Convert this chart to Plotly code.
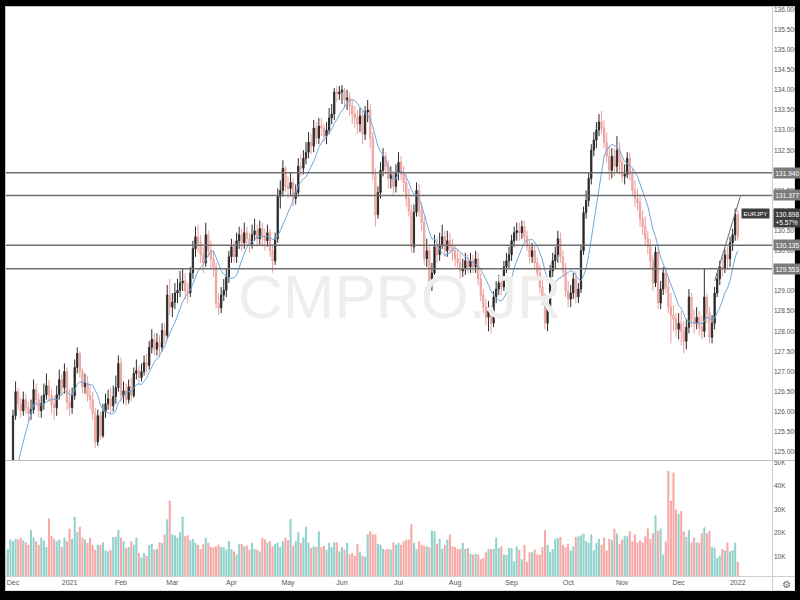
import pandas as pd
import plotly.graph_objects as go

# ---------------- data ----------------
holidays = ["2020-12-25", "2021-01-01"]
dates = [d for d in pd.bdate_range("2020-11-16", "2022-01-03") if d.strftime("%Y-%m-%d") not in holidays]

opens = [
    # Nov 2020
    123.80, 123.90, 123.62, 123.35, 123.22, 123.10, 123.48, 123.88,
    124.02, 123.99, 124.18,
    # Dec 2020
    124.40, 125.90, 126.50, 126.20, 126.02, 126.30, 126.10, 125.95, 126.05, 126.55, 126.30,
    126.02, 126.20, 126.42, 126.65, 126.40, 126.18, 126.10, 126.42, 126.80, 126.60, 127.00,
    # Jan 2021
    126.25, 126.10, 126.40, 127.10, 127.45, 127.00, 126.62, 126.72, 126.40, 126.30,
    125.95, 125.25, 125.90, 125.40, 126.00, 126.20, 126.32, 126.15, 126.38, 126.60,
    # Feb
    127.20, 126.40, 126.52, 126.30, 126.62, 126.40, 126.95, 127.02, 126.85, 127.00,
    127.22, 127.15, 127.60, 127.80, 127.55, 127.72, 127.60, 128.02, 127.90, 128.90,
    # Mar
    128.60, 128.72, 128.95, 129.02, 129.20, 129.25, 129.00, 128.95, 129.45, 130.05, 130.35, 130.20,
    129.90, 129.70, 130.40, 130.00, 129.80, 129.60, 128.70, 128.58, 128.90, 129.02, 129.35,
    # Apr
    129.85, 130.10, 129.85, 130.25, 130.40, 130.20, 130.45, 130.30, 130.15, 130.40, 130.50,
    130.30, 130.55, 130.35, 130.25, 130.45, 130.00, 129.75, 130.30, 131.35, 131.50, 132.05,
    # May
    131.60, 131.55, 131.70, 131.30, 131.45, 132.10, 132.05, 132.30, 132.45, 132.70, 132.60,
    133.05, 132.80, 133.10, 133.05, 132.85, 133.00, 133.30, 133.40, 133.95, 133.90,
    # Jun
    133.95, 134.00, 133.75, 133.80, 133.60, 133.40, 133.30, 133.15, 133.35, 132.90, 133.45,
    133.50, 132.80, 131.90, 130.90, 131.45, 132.00, 132.35, 132.10, 131.80, 131.90, 131.60,
    # Jul
    131.95, 132.20, 131.90, 131.70, 131.30, 131.00, 130.10, 130.95, 131.50, 131.00, 130.70,
    129.80, 130.00, 129.15, 129.45, 130.10, 129.90, 130.15, 130.35, 130.00, 130.25, 130.10,
    # Aug
    130.00, 129.80, 129.70, 129.50, 129.55, 129.75, 129.60, 129.75, 129.60, 129.80, 129.30,
    128.90, 128.60, 128.35, 128.50, 128.20, 128.85, 129.05, 129.20, 129.10, 129.60, 129.75,
    # Sep
    129.90, 130.25, 130.45, 130.50, 130.45, 130.60, 130.35, 130.10, 129.85, 130.00, 129.70,
    129.45, 129.10, 128.80, 128.20, 128.60, 129.50, 129.75, 129.90, 130.30, 129.85, 129.50,
    # Oct
    129.00, 128.80, 128.95, 129.30, 128.85, 129.05, 130.00, 130.95, 131.25, 131.80, 132.50,
    132.75, 133.00, 133.20, 133.05, 132.70, 132.35, 132.00, 132.35, 132.10, 132.50,
    # Nov
    132.20, 131.85, 131.90, 132.30, 131.90, 131.50, 131.30, 131.20, 130.80, 130.60, 130.30,
    130.10, 129.75, 129.20, 129.97, 128.70, 129.05, 129.45, 129.10, 128.60, 128.40, 128.30,
    # Dec
    128.05, 128.20, 128.00, 127.75, 128.10, 128.85, 128.30, 128.20, 128.35, 128.10, 128.00, 128.85,
    128.45, 127.85, 128.20, 128.95, 129.30, 129.60, 129.55, 129.90, 129.80, 130.20, 130.40,
    # Jan 2022
    130.90,
]

highs = [
    124.05, 124.00, 123.75, 123.50, 123.40, 123.60, 124.00, 124.15,
    124.20, 124.30, 124.60,
    126.05, 126.75, 126.60, 126.35, 126.50, 126.45, 126.25, 126.30, 126.80, 126.70, 126.45,
    126.40, 126.70, 126.95, 126.80, 126.55, 126.40, 126.65, 127.05, 126.95, 127.20, 127.10,
    126.55, 126.60, 127.30, 127.60, 127.50, 127.10, 126.95, 126.90, 126.65, 126.50,
    126.10, 126.05, 126.00, 126.20, 126.45, 126.55, 126.60, 126.65, 126.90, 127.40,
    127.35, 126.75, 126.70, 126.80, 126.85, 127.10, 127.30, 127.15, 127.20, 127.40,
    127.45, 127.75, 128.05, 127.95, 127.95, 127.90, 128.20, 128.20, 129.15, 129.30,
    128.95, 129.20, 129.30, 129.50, 129.55, 129.45, 129.20, 129.60, 130.25, 130.60, 130.65, 130.40,
    130.10, 130.70, 130.50, 130.25, 130.00, 129.70, 128.95, 129.10, 129.30, 129.55, 130.00,
    130.30, 130.25, 130.45, 130.60, 130.55, 130.70, 130.60, 130.45, 130.65, 130.80, 130.65,
    130.75, 130.70, 130.55, 130.65, 130.55, 130.15, 130.45, 131.55, 131.75, 132.25, 132.10,
    131.85, 131.95, 131.80, 131.65, 132.30, 132.40, 132.50, 132.70, 132.95, 132.90, 133.25,
    133.20, 133.30, 133.30, 133.15, 133.20, 133.55, 133.65, 134.05, 134.10, 134.10,
    134.12, 134.05, 134.00, 133.95, 133.75, 133.60, 133.50, 133.55, 133.50, 133.60, 133.75,
    133.65, 132.95, 132.05, 131.60, 132.20, 132.55, 132.45, 132.25, 132.10, 132.00, 132.15,
    132.45, 132.35, 132.10, 131.90, 131.55, 131.15, 131.15, 131.70, 131.65, 131.20, 130.85,
    130.30, 130.15, 129.70, 130.40, 130.35, 130.45, 130.65, 130.50, 130.50, 130.45, 130.30,
    130.15, 130.05, 129.95, 129.80, 129.95, 129.90, 129.95, 129.90, 130.00, 129.95, 129.45,
    129.05, 128.80, 128.75, 128.65, 129.00, 129.25, 129.40, 129.35, 129.75, 129.95, 130.10,
    130.40, 130.60, 130.70, 130.70, 130.75, 130.75, 130.50, 130.25, 130.20, 130.15, 129.85,
    129.65, 129.30, 128.95, 128.75, 129.65, 129.95, 130.10, 130.50, 130.45, 130.00, 129.70,
    129.25, 129.15, 129.45, 129.50, 129.20, 130.15, 131.10, 131.50, 131.95, 132.65, 132.95,
    133.20, 133.40, 133.48, 133.25, 132.95, 132.60, 132.55, 132.55, 132.85, 132.70,
    132.35, 132.15, 132.45, 132.45, 132.05, 131.75, 131.55, 131.40, 131.00, 130.85, 130.50,
    130.30, 129.90, 130.10, 130.10, 129.25, 129.60, 129.60, 129.30, 128.95, 128.65, 128.45,
    128.45, 128.50, 128.25, 128.30, 129.05, 128.95, 128.55, 128.60, 128.50, 128.40, 129.55, 128.95,
    128.60, 128.40, 129.10, 129.45, 129.75, 129.85, 130.05, 130.10, 130.35, 130.55, 131.05,
    131.00,
]

lows = [
    123.60, 123.50, 123.25, 123.05, 122.95, 123.00, 123.40, 123.75,
    123.80, 123.90, 124.05,
    124.30, 125.80, 126.05, 125.85, 125.90, 125.95, 125.75, 125.80, 125.95, 126.15, 125.85,
    125.85, 126.05, 126.30, 126.25, 125.95, 125.80, 125.90, 126.30, 126.40, 126.45, 126.05,
    125.90, 125.95, 126.30, 126.95, 126.85, 126.45, 126.45, 126.25, 126.05, 125.80,
    125.10, 125.15, 125.30, 125.35, 125.85, 126.05, 125.95, 126.00, 126.20, 126.50,
    126.25, 126.20, 126.15, 126.20, 126.25, 126.35, 126.80, 126.70, 126.75, 126.90,
    126.95, 127.05, 127.45, 127.40, 127.40, 127.35, 127.50, 127.70, 127.80, 128.40,
    128.35, 128.55, 128.70, 128.85, 129.00, 128.80, 128.70, 128.85, 129.30, 129.85, 129.95, 129.70,
    129.45, 129.60, 129.85, 129.55, 129.35, 128.55, 128.40, 128.45, 128.75, 128.85, 129.20,
    129.70, 129.70, 129.70, 130.05, 130.00, 130.05, 130.15, 129.95, 130.05, 130.25, 130.10,
    130.15, 130.10, 130.00, 130.10, 129.85, 129.45, 129.65, 130.20, 131.05, 131.35, 131.45,
    131.30, 131.35, 131.10, 131.15, 131.35, 131.85, 131.90, 132.15, 132.30, 132.40, 132.45,
    132.65, 132.65, 132.85, 132.70, 132.65, 132.90, 133.15, 133.25, 133.70, 133.75,
    133.65, 133.55, 133.50, 133.35, 133.15, 133.05, 132.90, 132.95, 132.65, 132.75, 133.20,
    132.55, 131.75, 130.60, 130.80, 131.30, 131.85, 131.90, 131.55, 131.55, 131.40, 131.45,
    131.75, 131.75, 131.45, 131.10, 130.85, 129.95, 129.95, 130.85, 130.85, 130.50, 129.65,
    129.60, 128.95, 129.00, 129.40, 129.70, 129.75, 130.05, 129.85, 129.85, 129.95, 129.75,
    129.60, 129.55, 129.30, 129.35, 129.40, 129.45, 129.45, 129.45, 129.45, 129.15, 128.75,
    128.45, 128.15, 128.00, 127.95, 128.10, 128.70, 128.90, 128.90, 129.00, 129.45, 129.55,
    129.75, 130.10, 130.25, 130.25, 130.30, 130.20, 130.00, 129.70, 129.70, 129.55, 129.30,
    128.95, 128.65, 128.05, 128.00, 128.50, 129.35, 129.55, 129.70, 129.70, 129.35, 128.85,
    128.60, 128.60, 128.80, 128.70, 128.70, 128.95, 129.90, 130.80, 131.10, 131.65, 132.35,
    132.55, 132.85, 132.90, 132.55, 132.20, 131.75, 131.80, 131.85, 131.95, 131.90,
    131.70, 131.65, 131.80, 131.75, 131.35, 131.10, 131.00, 130.60, 130.40, 130.15, 129.90,
    129.55, 129.00, 129.10, 128.55, 128.55, 128.90, 128.95, 128.45, 127.70, 128.00, 127.85,
    127.80, 127.65, 127.45, 127.55, 127.95, 128.10, 127.95, 128.05, 127.90, 127.80, 127.85, 128.20,
    127.70, 127.70, 128.05, 128.85, 129.15, 129.35, 129.45, 129.55, 129.60, 130.00, 130.25,
    130.25,
]

closes = [
    123.90, 123.62, 123.35, 123.22, 123.10, 123.48, 123.88, 124.02,
    123.99, 124.18, 124.40,
    125.90, 126.50, 126.20, 126.02, 126.30, 126.10, 125.95, 126.05, 126.55, 126.30, 126.02,
    126.20, 126.42, 126.65, 126.40, 126.18, 126.10, 126.42, 126.80, 126.60, 127.00, 126.25,
    126.10, 126.40, 127.10, 127.45, 127.00, 126.62, 126.72, 126.40, 126.30, 125.95,
    125.25, 125.90, 125.40, 126.00, 126.20, 126.32, 126.15, 126.38, 126.60, 127.20,
    126.40, 126.52, 126.30, 126.62, 126.40, 126.95, 127.02, 126.85, 127.00, 127.22,
    127.15, 127.60, 127.80, 127.55, 127.72, 127.60, 128.02, 127.90, 128.90, 128.60,
    128.72, 128.95, 129.02, 129.20, 129.25, 129.00, 128.95, 129.45, 130.05, 130.35, 130.20, 129.90,
    129.70, 130.40, 130.00, 129.80, 129.60, 128.70, 128.58, 128.90, 129.02, 129.35, 129.85,
    130.10, 129.85, 130.25, 130.40, 130.20, 130.45, 130.30, 130.15, 130.40, 130.50, 130.30,
    130.55, 130.35, 130.25, 130.45, 130.00, 129.75, 130.30, 131.35, 131.50, 132.05, 131.60,
    131.55, 131.70, 131.30, 131.45, 132.10, 132.05, 132.30, 132.45, 132.70, 132.60, 133.05,
    132.80, 133.10, 133.05, 132.85, 133.00, 133.30, 133.40, 133.95, 133.90, 133.95,
    134.00, 133.75, 133.80, 133.60, 133.40, 133.30, 133.15, 133.35, 132.90, 133.45, 133.50,
    132.80, 131.90, 130.90, 131.45, 132.00, 132.35, 132.10, 131.80, 131.90, 131.60, 131.95,
    132.20, 131.90, 131.70, 131.30, 131.00, 130.10, 130.95, 131.50, 131.00, 130.70, 129.80,
    130.00, 129.15, 129.45, 130.10, 129.90, 130.15, 130.35, 130.00, 130.25, 130.10, 130.00,
    129.80, 129.70, 129.50, 129.55, 129.75, 129.60, 129.75, 129.60, 129.80, 129.30, 128.90,
    128.60, 128.35, 128.50, 128.20, 128.85, 129.05, 129.20, 129.10, 129.60, 129.75, 129.90,
    130.25, 130.45, 130.50, 130.45, 130.60, 130.35, 130.10, 129.85, 130.00, 129.70, 129.45,
    129.10, 128.80, 128.20, 128.60, 129.50, 129.75, 129.90, 130.30, 129.85, 129.50, 129.00,
    128.80, 128.95, 129.30, 128.85, 129.05, 130.00, 130.95, 131.25, 131.80, 132.50, 132.75,
    133.00, 133.20, 133.05, 132.70, 132.35, 132.00, 132.35, 132.10, 132.50, 132.20,
    131.85, 131.90, 132.30, 131.90, 131.50, 131.30, 131.20, 130.80, 130.60, 130.30, 130.10,
    129.75, 129.20, 129.97, 128.70, 129.05, 129.45, 129.10, 128.60, 128.40, 128.30, 128.05,
    128.20, 128.00, 127.75, 128.10, 128.85, 128.30, 128.20, 128.35, 128.10, 128.00, 128.85, 128.45,
    127.85, 128.20, 128.95, 129.30, 129.60, 129.55, 129.90, 129.80, 130.20, 130.40, 130.90,
    130.35,
]

volumes_k = [
    13.1, 12.4, 14.0, 12.8, 11.5, 13.6, 12.9, 11.0,
    10.9, 13.3, 17.3,
    16.6, 17.6, 17.3, 18.1, 16.9, 16.1, 15.1, 21.3, 18.1, 16.6, 15.1,
    18.1, 16.9, 14.1, 26.3, 18.7, 17.6, 16.6, 17.3, 14.1, 18.1, 16.6,
    21.9, 17.6, 27.0, 20.6, 22.7, 18.1, 17.3, 15.9, 18.1, 15.1,
    13.0, 15.1, 15.1, 16.1, 12.7, 12.3, 13.0, 18.4, 18.4, 21.3,
    18.1, 16.6, 13.7, 14.1, 16.6, 15.1, 18.1, 11.6, 9.7, 11.6,
    10.4, 15.0, 15.5, 13.0, 13.3, 16.1, 15.9, 19.5, 25.9, 33.8,
    19.5, 19.1, 18.1, 20.4, 27.0, 18.7, 19.1, 16.9, 17.6, 15.9, 15.1, 13.3,
    15.5, 18.1, 15.9, 14.1, 14.1, 14.4, 15.1, 14.1, 14.1, 13.0, 16.6,
    13.3, 12.3, 10.9, 15.5, 15.5, 14.4, 14.7, 13.0, 15.9, 13.3, 13.0,
    12.3, 18.1, 17.3, 16.1, 16.6, 14.4, 15.5, 15.9, 14.1, 16.6, 18.1,
    17.1, 26.0, 14.7, 16.6, 20.4, 15.9, 18.1, 22.7, 16.0, 13.7, 14.4,
    14.1, 20.8, 14.1, 14.7, 13.0, 15.9, 14.1, 16.1, 16.1, 12.3,
    14.1, 13.0, 15.9, 11.0, 11.6, 10.4, 15.5, 12.1, 10.4, 10.0, 19.5,
    20.8, 19.5, 19.5, 15.5, 15.1, 13.3, 13.0, 13.3, 13.0, 16.1, 15.1,
    15.9, 15.1, 16.6, 17.3, 17.3, 23.8, 15.9, 13.3, 16.6, 15.1, 14.7,
    14.4, 14.1, 21.1, 20.8, 15.5, 17.6, 13.3, 15.1, 17.3, 19.5, 14.4,
    14.1, 13.3, 13.3, 15.9, 13.3, 13.7, 11.3, 10.9, 11.3, 10.9, 9.0,
    9.4, 11.9, 13.3, 13.3, 13.3, 18.1, 13.7, 14.4, 10.9, 10.9, 13.7,
    13.7, 8.1, 14.4, 13.0, 8.9, 15.1, 7.8, 11.9, 11.9, 13.0, 10.9,
    10.9, 14.1, 21.3, 15.1, 11.9, 13.3, 17.6, 17.9, 18.4, 15.1, 14.1,
    15.5, 12.7, 14.4, 18.4, 18.7, 19.1, 19.9, 16.6, 15.9, 19.5, 12.7,
    15.9, 17.6, 15.1, 18.1, 12.7, 17.6, 17.1, 21.9, 19.9, 15.5,
    17.3, 18.9, 18.7, 20.8, 16.6, 19.5, 16.1, 16.9, 16.1, 18.7, 22.0,
    17.6, 20.0, 27.6, 21.0, 22.0, 10.9, 16.5, 46.5, 33.8, 45.8, 30.0,
    28.1, 29.4, 20.8, 18.4, 21.3, 16.1, 18.1, 16.1, 15.9, 20.0, 22.5, 20.0,
    21.0, 14.1, 13.7, 9.5, 10.5, 13.3, 12.6, 16.0, 12.3, 12.8, 16.0,
    7.8,
]

levels = [131.940, 131.377, 130.135, 129.553]
level_labels = ["131.940", "131.377", "130.135", "129.553"]
last_price = 130.898
last_change = "+5.57%"
symbol = "EURJPY"
ma_period = 9
trend_idx = [284, 294]
trend_px = [129.25, 131.35]
month_labels = {2: "Feb", 3: "Mar", 4: "Apr", 5: "May", 6: "Jun", 7: "Jul",
                8: "Aug", 9: "Sep", 10: "Oct", 11: "Nov", 12: "Dec"}

n = len(dates)
assert len(opens) == n and len(highs) == n and len(lows) == n and len(closes) == n and len(volumes_k) == n

idx = list(range(n))
ma = pd.Series(closes).rolling(ma_period).mean()

tickvals, ticktext = [], []
prev = None
for i, d in enumerate(dates):
    key = (d.year, d.month)
    if key != prev:
        prev = key
        if d < pd.Timestamp("2020-12-01"):
            continue
        tickvals.append(i)
        ticktext.append(str(d.year) if d.month == 1 else month_labels[d.month])

up_col = "#92d2cc"
dn_col = "#f7a9a7"
vol_colors = [up_col if c >= o else dn_col for o, c in zip(opens, closes)]

# ---------------- figure ----------------
W, H = 800, 600
L, R, T, B = 5, 28, 7, 24
pw, ph = W - L - R, H - T - B


def pxx(x):
    return (x - L) / pw


def pxy(y):
    return (H - B - y) / ph


fig = go.Figure()

fig.add_trace(go.Candlestick(
    x=idx, open=opens, high=highs, low=lows, close=closes,
    increasing=dict(fillcolor="#222222", line=dict(color="#2c2c2c", width=1)),
    decreasing=dict(fillcolor="#f4c2bf", line=dict(color="#ec9f9b", width=1)),
    whiskerwidth=0, xaxis="x", yaxis="y", showlegend=False, hoverinfo="skip",
))

fig.add_trace(go.Scatter(
    x=idx, y=ma, mode="lines", line=dict(color="#6fa8dc", width=1),
    xaxis="x", yaxis="y", showlegend=False, hoverinfo="skip",
))

fig.add_trace(go.Scatter(
    x=trend_idx, y=trend_px, mode="lines", line=dict(color="#6b6b6b", width=1),
    xaxis="x", yaxis="y", showlegend=False, hoverinfo="skip",
))

fig.add_trace(go.Bar(
    x=idx, y=volumes_k, marker=dict(color=vol_colors, line=dict(width=0)),
    xaxis="x2", yaxis="y2", showlegend=False, hoverinfo="skip",
))

xr = [8 + (L - 5.3) / 2.57, 8 + (772 - 5.3) / 2.57]
font_fam = "Liberation Sans, Arial, sans-serif"
tick_font = dict(family=font_fam, size=6.5, color="#555555")

price_domain = [pxy(460), 1.0]
vol_domain = [0.0, pxy(461)]

fig.update_layout(
    width=W, height=H,
    margin=dict(l=L, r=R, t=T, b=B, autoexpand=False),
    paper_bgcolor="white", plot_bgcolor="white",
    bargap=0.2,
    xaxis=dict(domain=[0, 1], range=xr, showticklabels=False, showgrid=False, zeroline=False,
               rangeslider=dict(visible=False), anchor="y"),
    xaxis2=dict(domain=[0, 1], range=xr, matches="x", anchor="y2", showgrid=False, zeroline=False,
                tickmode="array", tickvals=tickvals, ticktext=ticktext,
                tickfont=dict(family=font_fam, size=7, color="#555555"),
                ticks="", ticklabelstandoff=1),
    yaxis=dict(domain=price_domain, range=[124.80, 136.06], side="right", anchor="x",
               tick0=125, dtick=0.5, tickformat=".3f", tickfont=tick_font,
               showgrid=False, zeroline=False, ticks="", ticklabelstandoff=1),
    yaxis2=dict(domain=vol_domain, range=[1.8, 50.7], side="right", anchor="x2",
                tickmode="array", tickvals=[10, 20, 30, 40, 50],
                ticktext=["10K", "20K", "30K", "40K", "50K"], tickfont=tick_font,
                showgrid=False, zeroline=False, ticks="", ticklabelstandoff=1),
)

shapes = []
for lv in levels:
    shapes.append(dict(type="line", xref="paper", yref="y", x0=0, x1=1, y0=lv, y1=lv,
                       line=dict(color="#6e6e6e", width=1.5), layer="above"))
line_c = "#cfcfcf"
shapes += [
    dict(type="line", xref="paper", yref="paper", x0=pxx(5), x1=pxx(795), y0=pxy(460.5), y1=pxy(460.5),
         line=dict(color="#bdbdbd", width=1), layer="above"),
    dict(type="line", xref="paper", yref="paper", x0=pxx(5), x1=pxx(795), y0=pxy(576.5), y1=pxy(576.5),
         line=dict(color=line_c, width=1), layer="above"),
    dict(type="line", xref="paper", yref="paper", x0=pxx(772.5), x1=pxx(772.5), y0=pxy(7), y1=pxy(591),
         line=dict(color=line_c, width=1), layer="above"),
    dict(type="rect", xref="paper", yref="paper", x0=pxx(5.5), x1=pxx(795), y0=pxy(6.5), y1=pxy(591),
         line=dict(color="#c4c4c4", width=1), layer="above"),
]
black = dict(color="black", width=0)
shapes += [
    dict(type="rect", xref="paper", yref="paper", x0=pxx(-2), x1=pxx(802), y0=pxy(-2), y1=pxy(6),
         fillcolor="black", line=black, layer="above"),
    dict(type="rect", xref="paper", yref="paper", x0=pxx(-2), x1=pxx(5), y0=pxy(-2), y1=pxy(602),
         fillcolor="black", line=black, layer="above"),
    dict(type="rect", xref="paper", yref="paper", x0=pxx(795), x1=pxx(802), y0=pxy(-2), y1=pxy(602),
         fillcolor="black", line=black, layer="above"),
    dict(type="rect", xref="paper", yref="paper", x0=pxx(-2), x1=pxx(802), y0=pxy(591), y1=pxy(602),
         fillcolor="black", line=black, layer="above"),
]
fig.update_layout(shapes=shapes)

annotations = []
for lv, lab in zip(levels, level_labels):
    annotations.append(dict(xref="paper", yref="y", x=1, y=lv, xanchor="left", yanchor="middle",
                            xshift=1, text=lab, showarrow=False, bgcolor="#7b7b7b", borderpad=1.5,
                            font=dict(family=font_fam, size=6.5, color="white")))
annotations.append(dict(xref="paper", yref="y", x=1, y=last_price, xanchor="left", yanchor="middle",
                        xshift=1, yshift=-3, text=f"{last_price:.3f}<br>{last_change}", showarrow=False,
                        bgcolor="#3d3d3d", borderpad=1.5, align="left",
                        font=dict(family=font_fam, size=6.5, color="white")))
annotations.append(dict(xref="paper", yref="y", x=1, y=last_price, xanchor="right", yanchor="middle",
                        xshift=-2, yshift=1, text=symbol, showarrow=False, bgcolor="#3d3d3d", borderpad=1.5,
                        font=dict(family=font_fam, size=6, color="white")))
annotations.append(dict(xref="paper", yref="paper", x=pxx(400), y=pxy(296), text="CMPRO.JR",
                        showarrow=False, font=dict(family=font_fam, size=62, color="#eeeeee"),
                        xanchor="center", yanchor="middle"))
annotations.append(dict(xref="paper", yref="paper", x=pxx(786), y=pxy(584), text="⚙", showarrow=False,
                        font=dict(size=10, color="#666666"), xanchor="center", yanchor="middle"))
fig.update_layout(annotations=annotations)

fig.write_html(
    "out.html",
    config={"displayModeBar": False, "responsive": False},
    post_script="document.body.style.margin='0';document.body.style.overflow='hidden';",
)
